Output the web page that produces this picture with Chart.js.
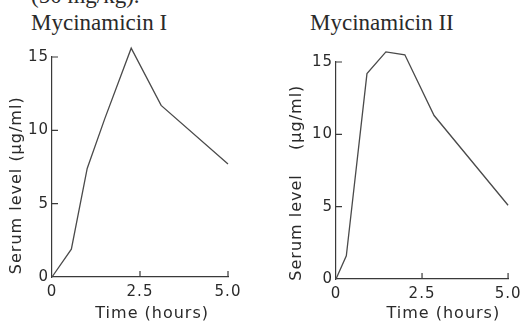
<!DOCTYPE html>
<html>
<head>
<meta charset="utf-8">
<script src="https://cdn.jsdelivr.net/npm/chart.js@4/dist/chart.umd.min.js"></script>
<style>
  body { margin: 0; background: #fff; width: 526px; height: 323px; overflow: hidden; position: relative; }
  .cap { position: absolute; font-family: "Liberation Serif", serif; font-size: 23px; line-height: 23px; color: #2a2a2a; white-space: nowrap; }
  .box { position: absolute; }
</style>
</head>
<body>
<div class="cap" style="left:31px; top:-16px;">(50 mg/kg).</div>
<div class="cap" style="left:31px; top:11px;">Mycinamicin I</div>
<div class="cap" style="left:310px; top:11px;">Mycinamicin II</div>
<div class="box" style="left:0; top:40px;"><canvas id="chart1" width="250" height="283"></canvas></div>
<div class="box" style="left:263px; top:40px;"><canvas id="chart2" width="263" height="283"></canvas></div>
<script>
// readings (time in hours, serum level in ug/ml)
const hours1 = [0, 0.55, 1.0, 1.5, 2.25, 3.1, 5.0];
const serum1 = [0, 1.9, 7.4, 10.8, 15.6, 11.7, 7.7];
const hours2 = [0, 0.3, 0.9, 1.45, 2.0, 2.85, 5.0];
const serum2 = [0, 1.6, 14.2, 15.7, 15.5, 11.3, 5.1];
const xTickText = ['0', '2.5', '5.0'];

const ink = '#3a3a3a';
const tickFont = { family: 'DejaVu Sans', size: 15 };

// small tick marks pointing into the plot, like the original
const inwardTicks = {
  id: 'inwardTicks',
  beforeDraw(chart) {
    chart.ctx.letterSpacing = '1px';
  },
  afterDraw(chart) {
    const { ctx, scales: { x, y } } = chart;
    ctx.save();
    ctx.strokeStyle = ink;
    ctx.lineWidth = 1.2;
    ctx.beginPath();
    y.ticks.forEach(t => {
      if (t.value === 0) return;
      const py = y.getPixelForValue(t.value);
      ctx.moveTo(x.left, py);
      ctx.lineTo(x.left + 6, py);
    });
    x.ticks.forEach(t => {
      if (t.value === 0) return;
      const px = x.getPixelForValue(t.value);
      ctx.moveTo(px, y.bottom);
      ctx.lineTo(px, y.bottom - 6);
    });
    ctx.stroke();
    ctx.restore();
  }
};

function makeChart(id, hours, serum, cfg) {
  const points = hours.map((h, i) => ({ x: h, y: serum[i] }));
  return new Chart(document.getElementById(id), {
    type: 'line',
    data: {
      datasets: [{
        data: points,
        borderColor: '#4a4a4a',
        borderWidth: 1.3,
        pointRadius: 0,
        tension: 0,
        clip: false
      }]
    },
    options: {
      responsive: false,
      animation: false,
      layout: { padding: { top: cfg.padTop, right: cfg.padRight, left: 0, bottom: 0 } },
      plugins: { legend: { display: false }, tooltip: { enabled: false } },
      scales: {
        x: {
          type: 'linear',
          min: 0,
          max: 5,
          afterFit: s => { s.height = cfg.xHeight; },
          grid: { display: false, drawTicks: false },
          border: { color: ink, width: 1.2 },
          ticks: {
            stepSize: 2.5,
            padding: 6,
            color: '#2a2a2a',
            font: tickFont,
            maxRotation: 0,
            callback: (v, i) => xTickText[i]
          },
          title: {
            display: true,
            text: cfg.xTitle,
            color: '#2a2a2a',
            font: { family: 'DejaVu Sans', size: 16 },
            padding: { top: 0, bottom: 0 }
          }
        },
        y: {
          min: 0,
          max: 15,
          afterFit: s => { s.width = cfg.yWidth; },
          grid: { display: false, drawTicks: false },
          border: { color: ink, width: 1.2 },
          ticks: {
            stepSize: 5,
            padding: 3,
            color: '#2a2a2a',
            font: tickFont
          },
          title: {
            display: true,
            text: cfg.yTitle,
            color: '#2a2a2a',
            font: { family: 'DejaVu Sans', size: 16 },
            padding: { top: cfg.yTitlePad, bottom: 0 }
          }
        }
      }
    },
    plugins: [inwardTicks]
  });
}

makeChart('chart1', hours1, serum1, {
  padTop: 17, padRight: 22, xHeight: 46, yWidth: 52, yTitlePad: 7,
  xTitle: '    Time (hours)',
  yTitle: 'Serum level (µg/ml)      '
});
makeChart('chart2', hours2, serum2, {
  padTop: 22, padRight: 15, xHeight: 44, yWidth: 73, yTitlePad: 24,
  xTitle: '       Time (hours)',
  yTitle: 'Serum level    (µg/ml)    '
});
</script>
</body>
</html>
